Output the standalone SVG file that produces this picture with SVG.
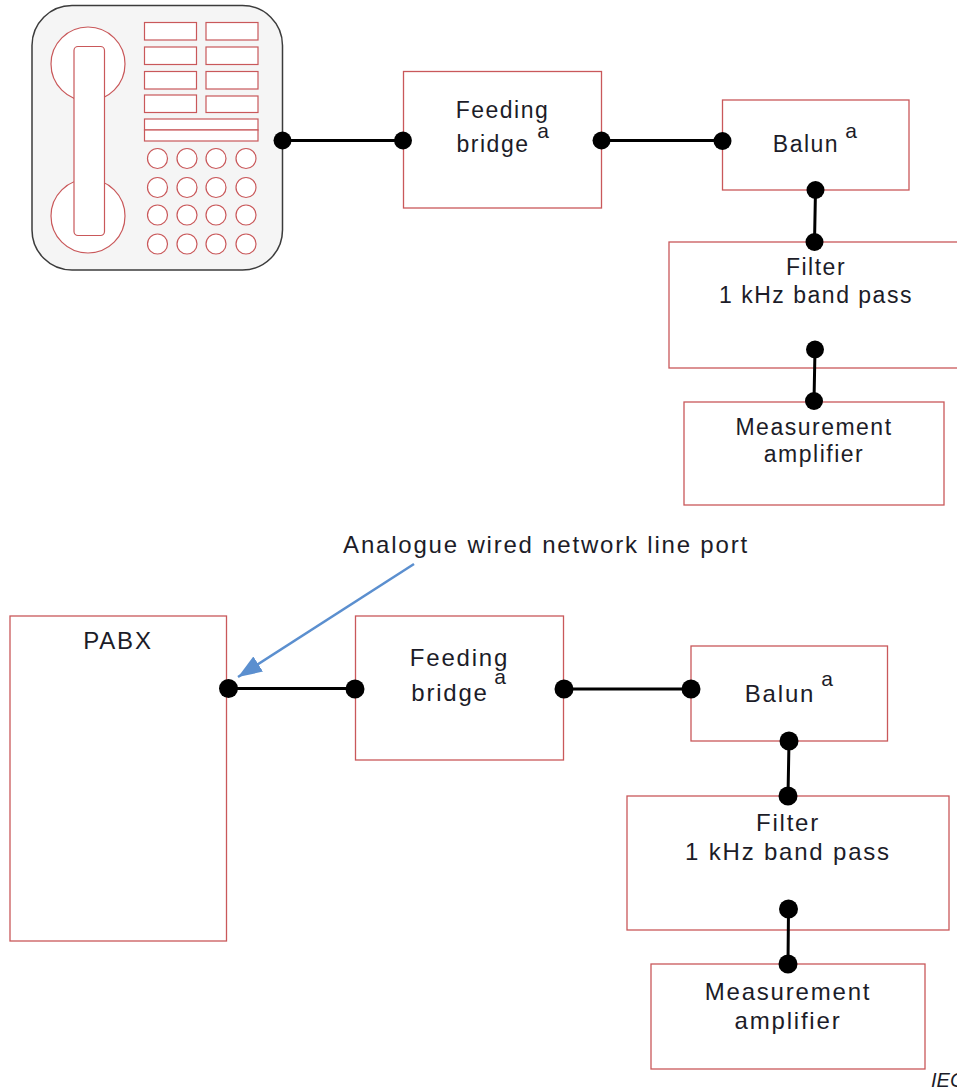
<svg xmlns="http://www.w3.org/2000/svg" width="957" height="1090" viewBox="0 0 957 1090">
<style>
.b{fill:#fff;stroke:#c9585a;stroke-width:1.3}
.k{fill:#fff;stroke:#c9585a;stroke-width:1.2}
.t{font-family:"Liberation Sans",Arial,sans-serif;fill:#1c1c28;text-anchor:middle}
.u{font-size:23px;letter-spacing:1.5px}
.l{font-size:24px;letter-spacing:1.8px}
.s{font-size:21px}
.w{fill:none;stroke:#000;stroke-width:3}
.d{fill:#000}
</style>
<defs><marker id="ah" markerUnits="userSpaceOnUse" markerWidth="26" markerHeight="20" refX="24" refY="9" orient="auto"><path d="M0 0L24 9L0 18Z" fill="#5b8fcf"/></marker></defs>
<rect width="957" height="1090" fill="#fff"/>
<g id="phone">
<rect x="32" y="5.5" width="250.5" height="264.5" rx="40" fill="#f5f5f5" stroke="#3c3c3c" stroke-width="1.5"/>
<circle class="k" cx="88" cy="64" r="37"/><circle class="k" cx="88" cy="216" r="37"/>
<rect class="k" x="74" y="46.5" width="30.5" height="189" rx="4"/>
<rect class="k" x="144.5" y="22.5" width="52" height="17.5"/><rect class="k" x="206" y="22.5" width="52" height="17.5"/>
<rect class="k" x="144.5" y="47" width="52" height="17.5"/><rect class="k" x="206" y="47" width="52" height="17.5"/>
<rect class="k" x="144.5" y="71.5" width="52" height="17.5"/><rect class="k" x="206" y="71.5" width="52" height="17.5"/>
<rect class="k" x="144.5" y="95" width="52" height="17.5"/><rect class="k" x="206" y="96" width="52" height="16.5"/>
<rect class="k" x="144.5" y="119" width="113.5" height="11"/><rect class="k" x="144.5" y="130" width="113.5" height="11"/>
<circle class="k" cx="157.5" cy="158.5" r="10"/><circle class="k" cx="187" cy="158.5" r="10"/><circle class="k" cx="216" cy="158.5" r="10"/><circle class="k" cx="246" cy="158.5" r="10"/>
<circle class="k" cx="157.5" cy="187.5" r="10"/><circle class="k" cx="187" cy="187.5" r="10"/><circle class="k" cx="216" cy="187.5" r="10"/><circle class="k" cx="246" cy="187.5" r="10"/>
<circle class="k" cx="157.5" cy="215" r="10"/><circle class="k" cx="187" cy="215" r="10"/><circle class="k" cx="216" cy="215" r="10"/><circle class="k" cx="246" cy="215" r="10"/>
<circle class="k" cx="157.5" cy="244" r="10"/><circle class="k" cx="187" cy="244" r="10"/><circle class="k" cx="216" cy="244" r="10"/><circle class="k" cx="246" cy="244" r="10"/>
</g>
<g id="bridge1"><rect class="b" x="403.500" y="71.500" width="198" height="136.500"/><text class="t u" x="502.500" y="118">Feeding</text><text class="t u" x="493" y="152">bridge</text><text class="t s" x="543" y="138">a</text></g>
<g id="balun1"><rect class="b" x="722.500" y="100" width="186.500" height="90"/><text class="t u" x="806" y="152">Balun</text><text class="t s" x="851" y="138">a</text></g>
<g id="filter1"><rect class="b" x="669" y="242" width="290" height="126"/><text class="t u" x="816" y="275">Filter</text><text class="t u" x="816" y="303">1 kHz band pass</text></g>
<g id="amp1"><rect class="b" x="684" y="402" width="260" height="103"/><text class="t u" x="814" y="435">Measurement</text><text class="t u" x="814" y="462">amplifier</text></g>
<g id="pabx"><rect class="b" x="10" y="616" width="216.500" height="325"/><text class="t l" x="118" y="649">PABX</text></g>
<g id="bridge2"><rect class="b" x="355.500" y="616" width="208" height="144"/><text class="t l" x="459.500" y="666">Feeding</text><text class="t l" x="450" y="701">bridge</text><text class="t s" x="500" y="684">a</text></g>
<g id="balun2"><rect class="b" x="691" y="646" width="196.500" height="95"/><text class="t l" x="780" y="702">Balun</text><text class="t s" x="827" y="686">a</text></g>
<g id="filter2"><rect class="b" x="627" y="796" width="322" height="134"/><text class="t l" x="788" y="831">Filter</text><text class="t l" x="788" y="860">1 kHz band pass</text></g>
<g id="amp2"><rect class="b" x="651" y="964" width="274" height="105"/><text class="t l" x="788" y="1000">Measurement</text><text class="t l" x="788" y="1029">amplifier</text></g>
<g id="labels"><text class="t l" x="546" y="553">Analogue wired network line port</text>
<text x="931" y="1087" font-family="Liberation Sans,Arial,sans-serif" font-size="20" font-style="italic" fill="#1c1c28">IEC</text></g>
<g id="connectors">
<path class="w" d="M282.500 140.500H403M601.500 140.500H722.500M815.500 190L814.500 242M815 349.500L814 401M228 688.500H355M564 689H691M789 741L788 796M788.500 909L788 964"/>
<path d="M414 564L238 677" fill="none" stroke="#5b8fcf" stroke-width="2.500" marker-end="url(#ah)"/>
<g class="d"><circle cx="282.500" cy="140.500" r="9"/><circle cx="403" cy="140.500" r="9"/><circle cx="601.500" cy="140.500" r="9"/><circle cx="722.500" cy="141" r="9"/><circle cx="815.500" cy="190" r="9"/><circle cx="814.500" cy="242" r="9"/><circle cx="815" cy="349.500" r="9"/><circle cx="814" cy="401" r="9"/>
<circle cx="228.500" cy="688.500" r="9.500"/><circle cx="355" cy="689" r="9.500"/><circle cx="564" cy="689" r="9.500"/><circle cx="691" cy="689" r="9.500"/><circle cx="789" cy="741" r="9.500"/><circle cx="788" cy="796" r="9.500"/><circle cx="788.500" cy="909" r="9.500"/><circle cx="788" cy="964" r="9.500"/></g>
</g>
</svg>
